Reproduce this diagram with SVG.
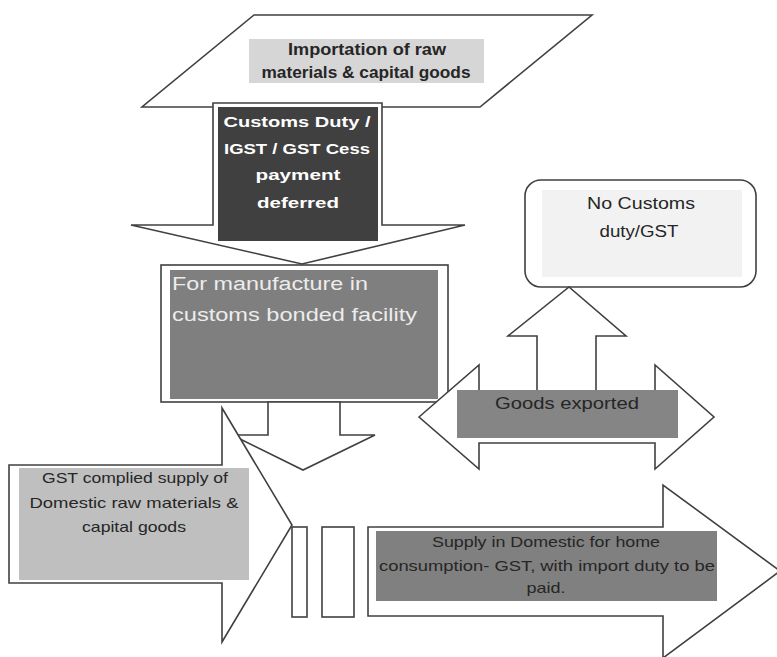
<svg xmlns="http://www.w3.org/2000/svg" width="777" height="657" viewBox="0 0 777 657">
<style>
.ol{fill:#ffffff;stroke:#404040;stroke-width:1.6;stroke-linejoin:miter}
.t{font-family:"Liberation Sans",Arial,sans-serif;text-anchor:middle;fill:#262626}
.b{font-weight:bold}
.w{fill:#ffffff}
.lt{fill:#ececec;text-anchor:start}
</style>
<rect x="0" y="0" width="777" height="657" fill="#ffffff"/>

<g id="import">
<polygon class="ol" points="254,15 592,15 480,107 142,107"/>
<rect x="249" y="39" width="235" height="44" fill="#d6d6d6"/>
<text class="t b" x="367" y="55" font-size="16" textLength="158" lengthAdjust="spacingAndGlyphs">Importation of raw</text>
<text class="t b" x="366" y="78" font-size="16" textLength="209" lengthAdjust="spacingAndGlyphs">materials &amp; capital goods</text>
</g>

<g id="customs">
<polygon class="ol" points="213,103 382,103 382,225 465,225 302,264 131,225 213,225"/>
<rect x="218" y="107" width="160" height="134" fill="#404040"/>
<text class="t b w" x="297" y="127" font-size="15" textLength="147" lengthAdjust="spacingAndGlyphs">Customs Duty /</text>
<text class="t b w" x="297" y="154" font-size="15" textLength="146" lengthAdjust="spacingAndGlyphs">IGST / GST Cess</text>
<text class="t b w" x="298" y="180" font-size="15" textLength="85" lengthAdjust="spacingAndGlyphs">payment</text>
<text class="t b w" x="298" y="208" font-size="15" textLength="82" lengthAdjust="spacingAndGlyphs">deferred</text>
</g>

<g id="manufacture">
<rect class="ol" x="161" y="265" width="287" height="137"/>
<rect x="170" y="270" width="268" height="129" fill="#7f7f7f"/>
<text class="t lt" x="172" y="290" font-size="18" textLength="196" lengthAdjust="spacingAndGlyphs">For manufacture in</text>
<text class="t lt" x="172" y="321" font-size="18" textLength="245" lengthAdjust="spacingAndGlyphs">customs bonded facility</text>
</g>

<g id="no-customs">
<rect class="ol" x="525" y="180" width="231" height="107" rx="16" ry="16"/>
<rect x="542" y="190" width="200" height="87" fill="#f2f2f2"/>
<text class="t" x="641" y="209" font-size="16" textLength="108" lengthAdjust="spacingAndGlyphs">No Customs</text>
<text class="t" x="639" y="237" font-size="16" textLength="79" lengthAdjust="spacingAndGlyphs">duty/GST</text>
</g>

<g id="connectors">
<polygon class="ol" points="268,402 340,402 340,435 375,435 303,470 232,435 268,435"/>
<polygon class="ol" points="537,391 537,336 508,336 569,287 626,336 596,336 596,391"/>
</g>

<g id="exported">
<polygon class="ol" points="419,417 479,365 479,391 655,391 655,365 714,417 655,469 655,443 479,443 479,469"/>
<rect x="457" y="390" width="221" height="48" fill="#858585"/>
<text class="t" x="567" y="409" font-size="16.5" textLength="144" lengthAdjust="spacingAndGlyphs">Goods exported</text>
</g>

<g id="gst-supply">
<polygon class="ol" points="9,465 222,465 222,408 292,525 222,642 222,583 9,583"/>
<rect x="19" y="468" width="230" height="112" fill="#bfbfbf"/>
<text class="t" x="135" y="483" font-size="15" textLength="186" lengthAdjust="spacingAndGlyphs">GST complied supply of</text>
<text class="t" x="134" y="507.5" font-size="15" textLength="209" lengthAdjust="spacingAndGlyphs">Domestic raw materials &amp;</text>
<text class="t" x="134" y="531.5" font-size="15" textLength="104" lengthAdjust="spacingAndGlyphs">capital goods</text>
</g>

<g id="domestic-supply">
<rect class="ol" x="292" y="527" width="15" height="90"/>
<rect class="ol" x="322" y="527" width="32" height="90"/>
<polygon class="ol" points="368,527 663,527 663,485 780,571 663,658 663,616 368,616"/>
<rect x="376" y="531" width="341" height="70" fill="#808080"/>
<text class="t" x="546" y="547" font-size="15" textLength="228" lengthAdjust="spacingAndGlyphs">Supply in Domestic for home</text>
<text class="t" x="547" y="570.5" font-size="15" textLength="336" lengthAdjust="spacingAndGlyphs">consumption- GST, with import duty to be</text>
<text class="t" x="546" y="593" font-size="15" textLength="39" lengthAdjust="spacingAndGlyphs">paid.</text>
</g>
</svg>
